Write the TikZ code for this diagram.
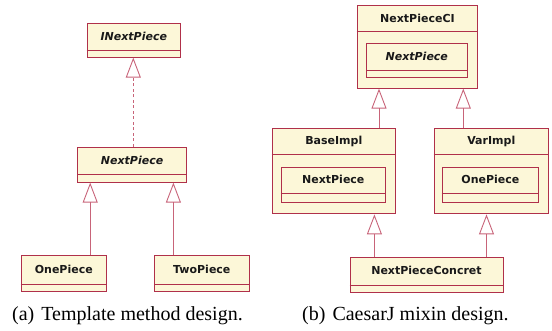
\documentclass[tikz,border=0pt]{standalone}
\usepackage{fontspec}
\setmainfont{Liberation Serif}
\newfontfamily\umlfont{DejaVu Sans}
\usetikzlibrary{arrows.meta,calc}
\definecolor{boxborder}{HTML}{B0304A}
\definecolor{boxfill}{HTML}{FCF7D8}
\definecolor{edgecol}{HTML}{C86479}
\tikzset{
  clsbox/.style={draw=boxborder, fill=boxfill, line width=0.9pt, rectangle, inner sep=0pt, anchor=north west},
  clsname/.style={font=\umlfont\bfseries\fontsize{11}{12}\selectfont, text=black!90, inner sep=0pt},
  absname/.style={font=\umlfont\bfseries\itshape\fontsize{11}{12}\selectfont, text=black!90, inner sep=0pt},
  divline/.style={draw=boxborder, line width=0.9pt},
  inh/.style={draw=edgecol, line width=0.9pt, -{Triangle[open, length=20pt, width=15pt, line width=0.9pt]}},
  caption/.style={font=\fontsize{20}{22}\selectfont, anchor=base west, inner sep=0pt}
}
\begin{document}
\begin{tikzpicture}[x=1pt,y=-1pt]
\useasboundingbox (0,0) rectangle (552,331);
% ---------- (a) ----------
\node[clsbox, minimum width=93.3pt, minimum height=33.4pt] (inp) at (86.7,23.3) {};
\draw[divline] ($(inp.south west)+(0,-7.4)$) -- ($(inp.south east)+(0,-7.4)$);
\node[absname] (inpt) at ($(inp.north)+(0,13)$) {INextPiece};

\node[clsbox, minimum width=108.7pt, minimum height=35pt] (npa) at (77.3,146.7) {};
\draw[divline] ($(npa.south west)+(0,-8.4)$) -- ($(npa.south east)+(0,-8.4)$);
\node[absname] (npat) at ($(npa.north)+(0,13.3)$) {NextPiece};

\node[clsbox, minimum width=85.7pt, minimum height=35.4pt] (one) at (20.5,255.4) {};
\draw[divline] ($(one.south west)+(0,-7.1)$) -- ($(one.south east)+(0,-7.1)$);
\node[clsname] (onet) at ($(one.north)+(0,14.1)$) {OnePiece};

\node[clsbox, minimum width=94.9pt, minimum height=35.4pt] (two) at (153.9,255.4) {};
\draw[divline] ($(two.south west)+(0,-7.1)$) -- ($(two.south east)+(0,-7.1)$);
\node[clsname] (twot) at ($(two.north)+(0,14.1)$) {TwoPiece};

\coordinate (xa0) at (133.3,0);
\coordinate (xa1) at (90.2,0);
\coordinate (xa2) at (173.4,0);
\draw[inh, dashed, dash pattern=on 3pt off 2.5pt] (npa.north -| xa0) -- (inp.south -| xa0);
\draw[inh] (one.north -| xa1) -- (npa.south -| xa1);
\draw[inh] (two.north -| xa2) -- (npa.south -| xa2);

\node[caption] (capa) at (12,320) {(a)\hspace{7pt}Template method design.};

% ---------- (b) ----------
\node[clsbox, minimum width=120.6pt, minimum height=82.7pt] (ci) at (356.7,5) {};
\draw[divline] ($(ci.north west)+(0,26.7)$) -- ($(ci.north east)+(0,26.7)$);
\node[clsname] (cit) at ($(ci.north)+(0,13.3)$) {NextPieceCI};
\node[clsbox, minimum width=100.7pt, minimum height=33.4pt] (cin) at (366,43.3) {};
\draw[divline] ($(cin.south west)+(0,-6.7)$) -- ($(cin.south east)+(0,-6.7)$);
\node[absname] (cint) at ($(cin.north)+(0,13.4)$) {NextPiece};

\node[clsbox, minimum width=123.3pt, minimum height=85.2pt] (base) at (271.7,128.3) {};
\draw[divline] ($(base.north west)+(0,26)$) -- ($(base.north east)+(0,26)$);
\node[clsname] (baset) at ($(base.north)+(0,13)$) {BaseImpl};
\node[clsbox, minimum width=104.3pt, minimum height=35pt] (basen) at (280.7,166.7) {};
\draw[divline] ($(basen.south west)+(0,-9)$) -- ($(basen.south east)+(0,-9)$);
\node[clsname] (basent) at ($(basen.north)+(0,13)$) {NextPiece};

\node[clsbox, minimum width=114.3pt, minimum height=85.2pt] (var) at (433.7,128.3) {};
\draw[divline] ($(var.north west)+(0,26)$) -- ($(var.north east)+(0,26)$);
\node[clsname] (vart) at ($(var.north)+(0,13)$) {VarImpl};
\node[clsbox, minimum width=96.6pt, minimum height=35pt] (varn) at (441.7,166.7) {};
\draw[divline] ($(varn.south west)+(0,-9)$) -- ($(varn.south east)+(0,-9)$);
\node[clsname] (varnt) at ($(varn.north)+(0,13)$) {OnePiece};

\node[clsbox, minimum width=152.9pt, minimum height=35pt] (conc) at (349.6,256.8) {};
\draw[divline] ($(conc.south west)+(0,-7.1)$) -- ($(conc.south east)+(0,-7.1)$);
\node[clsname] (conct) at ($(conc.north)+(0,13.9)$) {NextPieceConcret};

\coordinate (xb1) at (379,0);
\coordinate (xb2) at (463.3,0);
\coordinate (xb3) at (374.4,0);
\coordinate (xb4) at (486.5,0);
\draw[inh] (base.north -| xb1) -- (ci.south -| xb1);
\draw[inh] (var.north -| xb2) -- (ci.south -| xb2);
\draw[inh] (conc.north -| xb3) -- (base.south -| xb3);
\draw[inh] (conc.north -| xb4) -- (var.south -| xb4);

\node[caption] (capb) at (302,320) {(b)\hspace{7pt}CaesarJ mixin design.};
\end{tikzpicture}
\end{document}
